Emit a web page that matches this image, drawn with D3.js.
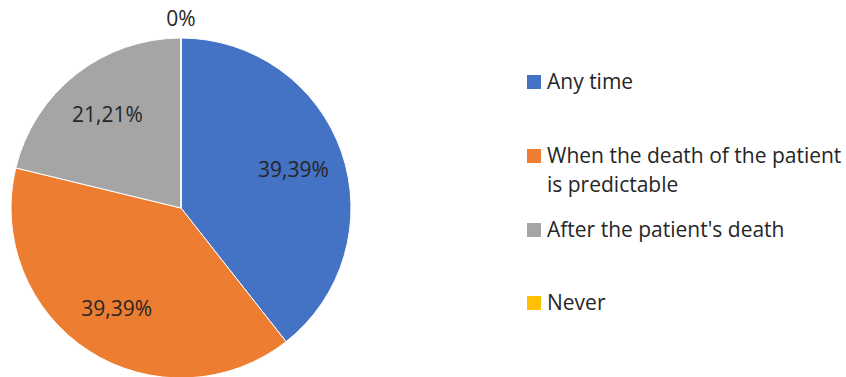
<!DOCTYPE html>
<html>
<head>
<meta charset="utf-8">
<script src="https://cdn.jsdelivr.net/npm/d3@7"></script>
<style>
  html, body { margin: 0; padding: 0; background: #fff; }
  svg { display: block; }
  text { font-family: "Open Sans", "Noto Sans", sans-serif; fill: #262626; }
</style>
</head>
<body>
<svg id="chart" width="846" height="377"></svg>
<script>
const categories = ["Any time", "When the death of the patient is predictable", "After the patient's death", "Never"];
const legendLines = [["Any time"], ["When the death of the patient", "is predictable"], ["After the patient's death"], ["Never"]];
const values = [39.39, 39.39, 21.21, 0];
const colors = ["#4472C4", "#ED7D31", "#A5A5A5", "#FFC000"];

const svg = d3.select("#chart");
const cx = 181, cy = 208, r = 170;

const pie = d3.pie().sort(null).value(d => d)(values);
const arc = d3.arc().innerRadius(0).outerRadius(r);
const labelArc = d3.arc().innerRadius(r * 0.7).outerRadius(r * 0.7);
const outerLabelArc = d3.arc().innerRadius(r + 20).outerRadius(r + 20);

const g = svg.append("g").attr("transform", `translate(${cx},${cy})`);

g.selectAll("path.slice")
  .data(pie)
  .enter().append("path")
  .attr("class", "slice")
  .attr("d", arc)
  .attr("fill", (d, i) => colors[i])
  .attr("stroke", "#fff")
  .attr("stroke-width", 1);

const fmt = v => (v === 0 ? "0" : v.toFixed(2).replace(".", ",")) + "%";

g.selectAll("text.lbl")
  .data(pie)
  .enter().append("text")
  .attr("class", "lbl")
  .attr("transform", d => {
    const c = d.value === 0 ? outerLabelArc.centroid(d) : labelArc.centroid(d);
    return `translate(${c[0]},${c[1]})`;
  })
  .attr("text-anchor", "middle")
  .attr("dy", "0.36em")
  .style("font-size", "21px")
  .text(d => fmt(d.value));

// Legend
const legendX = 527;
const legendBaselines = [89, 163, 237, 310];
const lineH = 29;
const lg = svg.append("g");
categories.forEach((c, i) => {
  const y0 = legendBaselines[i];
  lg.append("rect")
    .attr("x", legendX).attr("y", y0 - 14)
    .attr("width", 14).attr("height", 14)
    .attr("fill", colors[i]);
  const t = lg.append("text")
    .attr("x", legendX + 20).attr("y", y0)
    .style("font-size", "21px");
  legendLines[i].forEach((ln, j) => {
    t.append("tspan").attr("x", legendX + 20).attr("y", y0 + j * lineH).text(ln);
  });
});
</script>
</body>
</html>
